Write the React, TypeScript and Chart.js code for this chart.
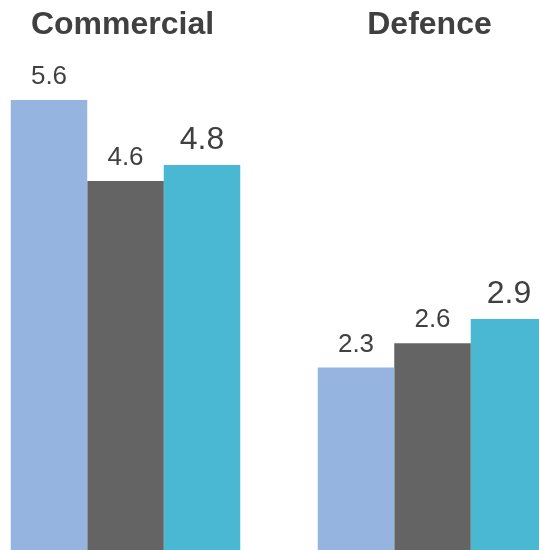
import React, { useEffect, useRef } from "react";
import { Chart, registerables } from "chart.js";

Chart.register(...registerables);

const categories = ["Commercial", "Defence"];
const seriesA = [5.6, 2.3];
const seriesB = [4.6, 2.6];
const seriesC = [4.8, 2.9];
const seriesColors = ["#95B4DF", "#646464", "#4AB8D3"];
const labelFontSizes = [26, 26, 32];

const labelPlugin = {
  id: "labelPlugin",
  afterDatasetsDraw(chart: any) {
    const ctx = chart.ctx;
    ctx.save();
    ctx.fillStyle = "#404040";
    ctx.textAlign = "center";
    chart.data.datasets.forEach((ds: any, di: number) => {
      const meta = chart.getDatasetMeta(di);
      ctx.font = `${labelFontSizes[di]}px "Liberation Sans", Arial, sans-serif`;
      ctx.textBaseline = "alphabetic";
      meta.data.forEach((el: any, i: number) => {
        ctx.fillText(String(ds.data[i]), el.x, el.y - 16);
      });
    });
    const xs = chart.scales.x;
    ctx.font = `bold 32px "Liberation Sans", Arial, sans-serif`;
    ctx.textBaseline = "middle";
    categories.forEach((c, i) => {
      ctx.fillText(c, xs.getPixelForValue(i) - 3, 25);
    });
    ctx.restore();
  },
};

export default function App() {
  const ref = useRef<HTMLCanvasElement>(null);
  useEffect(() => {
    document.body.style.margin = "0";
    document.body.style.overflow = "hidden";
    const chart = new Chart(ref.current!, {
      type: "bar",
      data: {
        labels: categories,
        datasets: [
          { data: seriesA, backgroundColor: seriesColors[0] },
          { data: seriesB, backgroundColor: seriesColors[1] },
          { data: seriesC, backgroundColor: seriesColors[2] },
        ],
      },
      options: {
        responsive: false,
        animation: false,
        devicePixelRatio: 1,
        layout: { padding: 0 },
        datasets: { bar: { categoryPercentage: 0.7476, barPercentage: 1, borderWidth: 0 } },
        plugins: { legend: { display: false }, tooltip: { enabled: false } },
        scales: {
          x: { display: false },
          y: { display: false, min: 0, max: 6.834 },
        },
      },
      plugins: [labelPlugin],
    });
    return () => chart.destroy();
  }, []);
  return (
    <div style={{ position: "fixed", left: 0, top: 0, width: 539, height: 550, overflow: "hidden", background: "#fff" }}>
      <canvas ref={ref} width={614} height={554} style={{ position: "absolute", left: -28, top: 0 }} />
    </div>
  );
}
